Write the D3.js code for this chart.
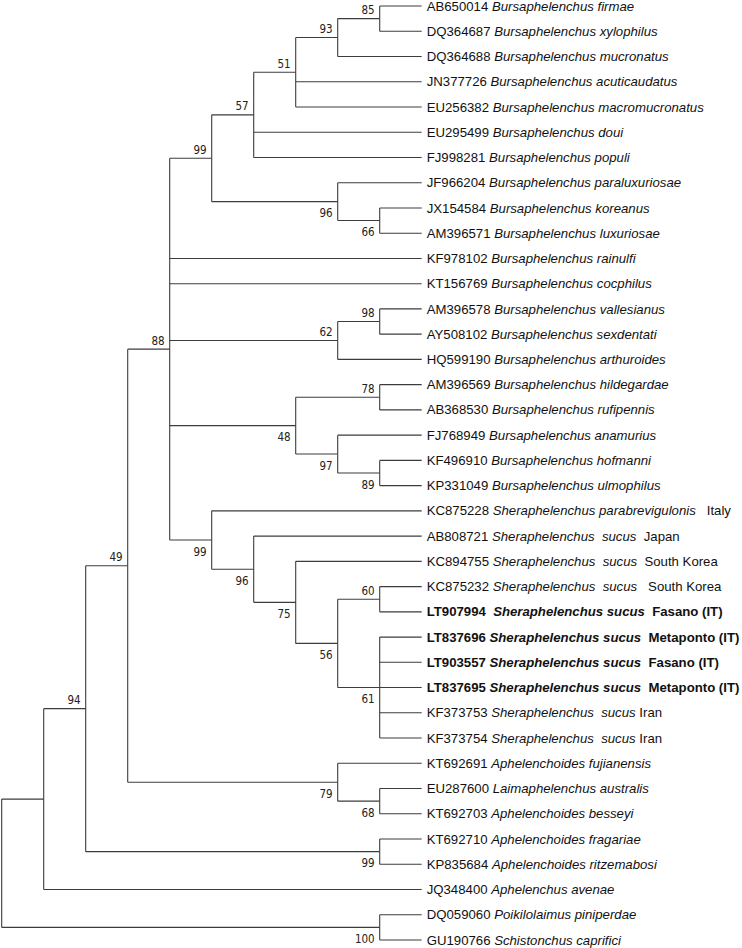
<!DOCTYPE html>
<html>
<head>
<meta charset="utf-8">
<script src="https://cdn.jsdelivr.net/npm/d3@7"></script>
<style>
  html, body { margin: 0; padding: 0; background: #fff; }
  svg { display: block; }
  .leaf { font-family: "Liberation Sans", Arial, sans-serif; font-size: 13.2px; fill: #111; white-space: pre; }
  .boot { font-family: "DejaVu Sans Condensed", "DejaVu Sans", sans-serif; font-stretch: condensed; font-size: 11.5px; fill: #222; }
</style>
</head>
<body>
<svg id="chart" width="742" height="948"></svg>
<script>
// Tree topology (Newick, leaf indices) with bootstrap support values
const newick = "((((((((((0,1)85,2)93,3,4)51,5,6)57,(7,(8,9)66)96)99,10,11,((12,13)98,14)62,((15,16)78,(17,(18,19)89)97)48,(20,(21,(22,((23,24)60,(25,26,27,28,29)61)56)75)96)99)88,(30,(31,32)68)79)49,(33,34)99)94,35),(36,37)100);";

// Leaf labels
const accessions = [
  "AB650014","DQ364687","DQ364688","JN377726","EU256382","EU295499","FJ998281",
  "JF966204","JX154584","AM396571","KF978102","KT156769","AM396578","AY508102",
  "HQ599190","AM396569","AB368530","FJ768949","KF496910","KP331049","KC875228",
  "AB808721","KC894755","KC875232","LT907994 ","LT837696","LT903557","LT837695",
  "KF373753","KF373754","KT692691","EU287600","KT692703","KT692710","KP835684",
  "JQ348400","DQ059060","GU190766"
];
const species = [
  "Bursaphelenchus firmae","Bursaphelenchus xylophilus","Bursaphelenchus mucronatus",
  "Bursaphelenchus acuticaudatus","Bursaphelenchus macromucronatus","Bursaphelenchus doui",
  "Bursaphelenchus populi","Bursaphelenchus paraluxuriosae","Bursaphelenchus koreanus",
  "Bursaphelenchus luxuriosae","Bursaphelenchus rainulfi","Bursaphelenchus cocphilus",
  "Bursaphelenchus vallesianus","Bursaphelenchus sexdentati","Bursaphelenchus arthuroides",
  "Bursaphelenchus hildegardae","Bursaphelenchus rufipennis","Bursaphelenchus anamurius",
  "Bursaphelenchus hofmanni","Bursaphelenchus ulmophilus","Sheraphelenchus parabrevigulonis",
  "Sheraphelenchus  sucus","Sheraphelenchus  sucus","Sheraphelenchus  sucus",
  "Sheraphelenchus sucus","Sheraphelenchus sucus","Sheraphelenchus sucus","Sheraphelenchus sucus",
  "Sheraphelenchus  sucus","Sheraphelenchus  sucus","Aphelenchoides fujianensis",
  "Laimaphelenchus australis","Aphelenchoides besseyi","Aphelenchoides fragariae",
  "Aphelenchoides ritzemabosi","Aphelenchus avenae","Poikilolaimus piniperdae","Schistonchus caprifici"
];
const origins = [
  "","","","","","","","","","","","","","","","","","","","",
  "   Italy","  Japan","  South Korea","   South Korea","  Fasano (IT)","  Metaponto (IT)",
  "  Fasano (IT)","  Metaponto (IT)"," Iran"," Iran",
  "","","","","","","",""
];
const boldLeaves = [24, 25, 26, 27];

// ---- parse Newick ----
function parseNewick(s) {
  let i = 0;
  function node() {
    const n = {};
    if (s[i] === "(") {
      n.children = [];
      i++;
      do { n.children.push(node()); } while (s[i] === "," && ++i);
      i++; // ')'
    }
    let tok = "";
    while (i < s.length && !",);".includes(s[i])) tok += s[i++];
    if (n.children) n.support = tok ? +tok : null;
    else n.leaf = +tok;
    return n;
  }
  return node();
}

const root = d3.hierarchy(parseNewick(newick));
const nLeaves = accessions.length;

const xScale = d3.scaleLinear().domain([root.height, 0]).range([1.7, 421.7]);
const yScale = d3.scaleLinear().domain([0, nLeaves - 1]).range([6, 940]);

root.eachAfter(d => {
  d.px = xScale(d.height);
  if (d.children) {
    d.py = (d.children[0].py + d.children[d.children.length - 1].py) / 2;
  } else {
    d.py = yScale(d.data.leaf);
  }
});

const svg = d3.select("#chart");
const g = svg.append("g");

const stroke = "#3c3c3c";

// horizontal branches
g.selectAll("line.h").data(root.descendants().filter(d => d.parent))
  .join("line").attr("class", "h")
  .attr("x1", d => d.parent.px).attr("x2", d => d.px)
  .attr("y1", d => d.py).attr("y2", d => d.py)
  .attr("stroke", stroke).attr("stroke-width", 1.1);

// vertical connectors
g.selectAll("line.v").data(root.descendants().filter(d => d.children))
  .join("line").attr("class", "v")
  .attr("x1", d => d.px).attr("x2", d => d.px)
  .attr("y1", d => d.children[0].py).attr("y2", d => d.children[d.children.length - 1].py)
  .attr("stroke", stroke).attr("stroke-width", 1.1);

// bootstrap labels
g.selectAll("text.boot").data(root.descendants().filter(d => d.children && d.data.support != null))
  .join("text").attr("class", "boot")
  .attr("text-anchor", "end")
  .attr("x", d => d.px - 5)
  .attr("y", d => (d.parent && d.py < d.parent.py) ? d.py - 4.5 : d.py + 15.5)
  .text(d => d.data.support);

// leaf labels
const leaves = root.leaves();
const lt = g.selectAll("text.leaf").data(leaves)
  .join("text").attr("class", "leaf")
  .attr("x", d => d.px + 5)
  .attr("y", d => d.py + 4.6)
  .attr("font-weight", d => boldLeaves.includes(d.data.leaf) ? "bold" : null);
lt.append("tspan").text(d => accessions[d.data.leaf] + " ");
lt.append("tspan").attr("font-style", "italic").text(d => species[d.data.leaf]);
lt.append("tspan").text(d => origins[d.data.leaf]);
</script>
</body>
</html>
